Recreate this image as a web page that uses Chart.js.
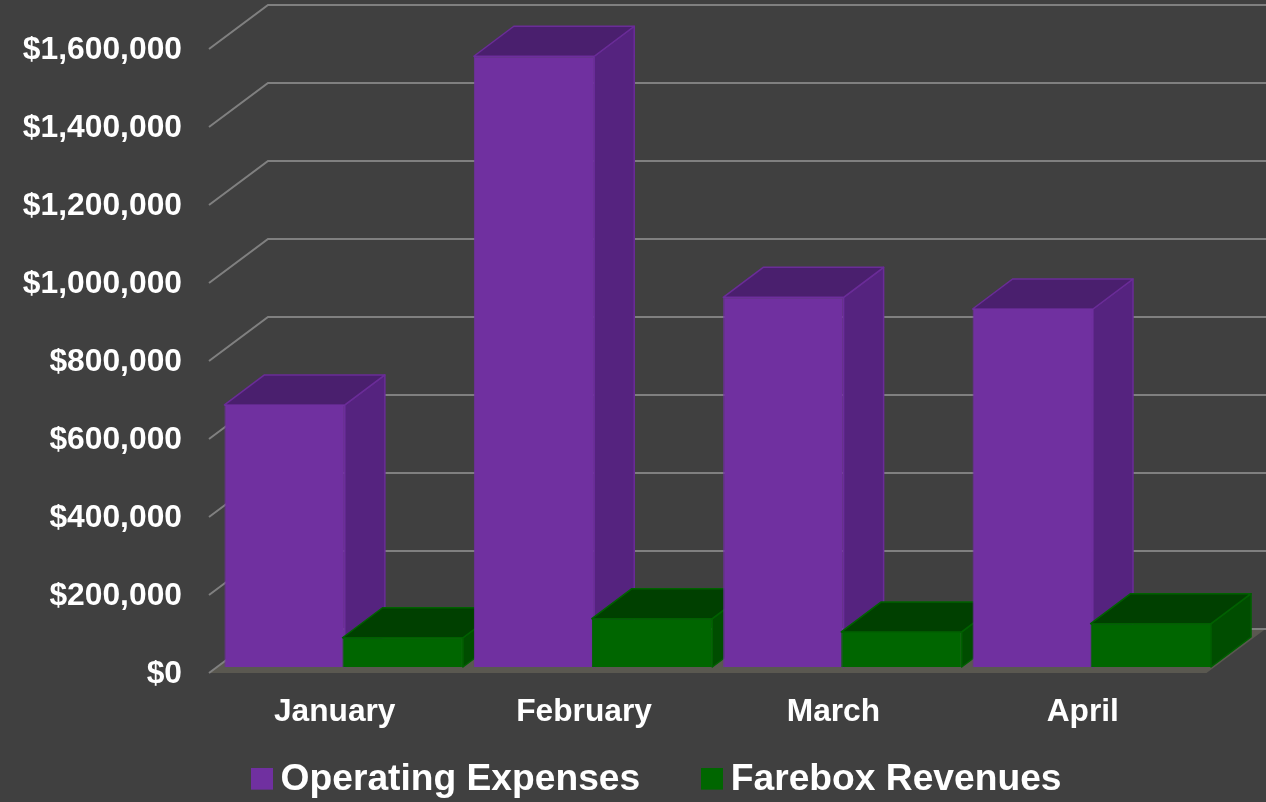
<!DOCTYPE html>
<html>
<head>
<meta charset="utf-8">
<style>html,body{margin:0;padding:0;background:#404040;overflow:hidden}canvas{display:block}</style>
<script src="https://cdn.jsdelivr.net/npm/chart.js@4"></script>
</head>
<body>
<canvas id="c" width="1266" height="802"></canvas>
<script>
const categories = ['January', 'February', 'March', 'April'];
const operatingExpenses = [672000, 1566000, 948000, 918000];
const fareboxRevenues = [75000, 124000, 90000, 111000];
const seriesNames = ['Operating Expenses', 'Farebox Revenues'];
const seriesColors = ['#7030a0', '#006600'];

const depth = {dx: 40, dy: -30};
const wall = {frontX: -10, frontY: 6, backX: 49, backY: -38};
const faces = [
  {side: '#55237f', top: '#4a1f6e', line: '#6a2c98'},
  {side: '#004d00', top: '#004000', line: '#006100'}
];

function poly(ctx, pts, fill, stroke) {
  ctx.beginPath();
  pts.forEach((p, i) => i ? ctx.lineTo(p[0], p[1]) : ctx.moveTo(p[0], p[1]));
  ctx.closePath();
  ctx.fillStyle = fill;
  ctx.fill();
  if (stroke) { ctx.strokeStyle = stroke; ctx.lineWidth = 1.5; ctx.lineJoin = 'round'; ctx.stroke(); }
}

// legend swatch: sits slightly above the middle of the text line
function swatch(color) {
  const c = document.createElement('canvas');
  c.width = 22; c.height = 25;
  const g = c.getContext('2d');
  g.fillStyle = color;
  g.fillRect(0, 0, 22, 22);
  return c;
}

const scene3d = {
  id: 'scene3d',
  afterLayout(chart) {
    // axis label boxes are narrower than their labels: widen so labels are not clipped
    chart.scales.y.left = 0;
    chart.scales.x.bottom = chart.height;
  },
  beforeDatasetsDraw(chart) {
    const ctx = chart.ctx, y = chart.scales.y, a = chart.chartArea;
    ctx.save();
    const y0 = y.getPixelForValue(0);
    poly(ctx, [
      [a.left + wall.frontX, y0 + wall.frontY],
      [a.right + wall.frontX, y0 + wall.frontY],
      [a.right + wall.backX, y0 + wall.backY],
      [a.left + wall.backX, y0 + wall.backY]
    ], '#5a5850');
    ctx.strokeStyle = '#808080';
    ctx.lineWidth = 2;
    y.ticks.forEach(t => {
      const py = y.getPixelForValue(t.value);
      ctx.beginPath();
      ctx.moveTo(a.left + wall.frontX, py + wall.frontY);
      ctx.lineTo(a.left + wall.backX, py + wall.backY);
      ctx.lineTo(chart.width, py + wall.backY);
      ctx.stroke();
    });
    categories.forEach((_, i) => {
      chart.data.datasets.forEach((_, d) => {
        const el = chart.getDatasetMeta(d).data[i];
        const l = el.x - el.width / 2, r = el.x + el.width / 2, t = el.y, b = el.base;
        const f = faces[d];
        poly(ctx, [[r, t], [r + depth.dx, t + depth.dy], [r + depth.dx, b + depth.dy], [r, b]], f.side, f.line);
        poly(ctx, [[l, t], [l + depth.dx, t + depth.dy], [r + depth.dx, t + depth.dy], [r, t]], f.top, f.line);
        el.draw(ctx);
      });
    });
    ctx.restore();
    return false;
  }
};

new Chart(document.getElementById('c'), {
  type: 'bar',
  data: {
    labels: categories,
    datasets: [
      {label: seriesNames[0], data: operatingExpenses, backgroundColor: seriesColors[0], borderColor: seriesColors[0], borderWidth: 1},
      {label: seriesNames[1], data: fareboxRevenues, backgroundColor: seriesColors[1], borderColor: '#006100', borderWidth: 1}
    ]
  },
  plugins: [scene3d],
  options: {
    responsive: false,
    animation: false,
    devicePixelRatio: 1,
    categoryPercentage: 0.9468,
    barPercentage: 1.02,
    layout: {padding: {left: 107, right: 49.5, top: 43, bottom: 0}},
    plugins: {
      tooltip: {enabled: false},
      title: {display: false},
      legend: {
        position: 'bottom',
        maxHeight: 112.5,
        labels: {
          color: '#ffffff',
          font: {family: '"Liberation Sans"', size: 37.2, weight: 'bold'},
          usePointStyle: true,
          boxWidth: 0.01,
          boxHeight: 21.5,
          padding: 72,
          generateLabels(chart) {
            return Chart.defaults.plugins.legend.labels.generateLabels(chart).map((it, i) => {
              it.pointStyle = swatch(seriesColors[i]);
              return it;
            });
          }
        }
      }
    },
    scales: {
      x: {
        afterFit(s) { s.height = 22.5; s.paddingLeft = 0; s.paddingRight = 0; },
        grid: {display: false, drawTicks: false},
        border: {display: false},
        ticks: {color: '#ffffff', font: {family: '"Liberation Sans"', size: 31.7, weight: 'bold'}, padding: 26, labelOffset: -9, maxRotation: 0}
      },
      y: {
        min: 0,
        max: 1600000,
        afterFit(s) { s.width = 112; s.paddingTop = 0; s.paddingBottom = 0; },
        grid: {display: false, drawTicks: false},
        border: {display: false},
        ticks: {
          stepSize: 200000,
          color: '#ffffff',
          font: {family: '"Liberation Sans"', size: 31.8, weight: 'bold'},
          padding: 37,
          labelOffset: 7,
          callback: v => '$' + Number(v).toLocaleString('en-US')
        }
      }
    }
  }
});
</script>
</body>
</html>
